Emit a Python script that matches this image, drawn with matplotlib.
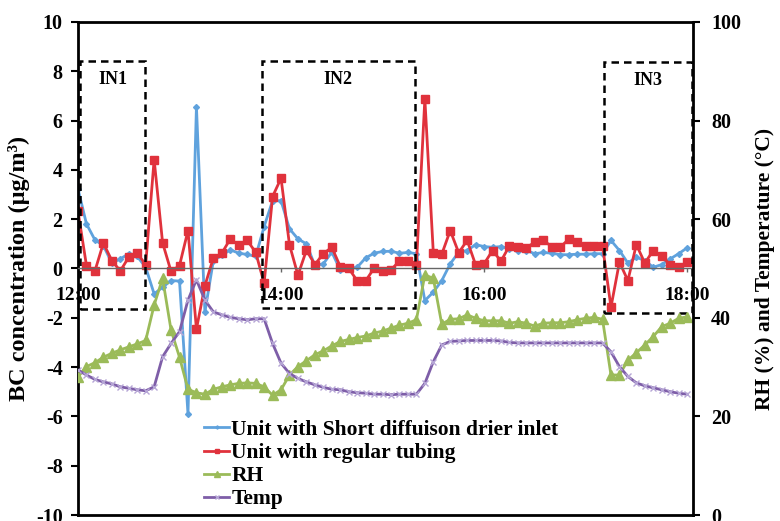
import numpy as np
import matplotlib
matplotlib.use("Agg")
import matplotlib.pyplot as plt
import matplotlib.patches as patches

# sampling every 5 minutes from 12:00 to 18:00
minutes = np.arange(0, 361, 5)
tick_minutes = [0, 120, 240, 360]
tick_labels = ["12:00", "14:00", "16:00", "18:00"]

bc_drier = [3.23, 1.81, 1.16, 0.93, 0.22, 0.39, 0.60, 0.49, 0.05, -1.03,
            -0.76, -0.49, -0.51, -5.9, 6.57, -1.77, 0.32, 0.53, 0.76, 0.62,
            0.57, 0.49, 1.70, 2.75, 2.75, 1.61, 1.20, 1.00, 0.12, 0.19,
            0.66, -0.05, -0.01, 0.05, 0.43, 0.62, 0.69, 0.70, 0.62, 0.65,
            0.60, -1.30, -0.96, -0.49, 0.19, 0.66, 0.73, 0.97, 0.89, 0.86,
            0.89, 0.80, 0.73, 0.73, 0.60, 0.65, 0.62, 0.56, 0.56, 0.58,
            0.58, 0.60, 0.60, 1.14, 0.73, 0.22, 0.46, 0.32, 0.05, 0.16,
            0.39, 0.60, 0.84]
bc_tubing = [2.32, 0.12, -0.10, 1.03, 0.32, -0.10, 0.46, 0.62, 0.16, 4.42,
             1.04, -0.12, 0.12, 1.54, -2.46, -0.70, 0.43, 0.62, 1.20, 0.95,
             1.14, 0.66, -0.60, 2.92, 3.66, 0.96, -0.27, 0.74, 0.16, 0.60,
             0.86, 0.08, 0.01, -0.50, -0.50, 0.01, -0.11, -0.05, 0.30, 0.32,
             0.14, 6.88, 0.64, 0.58, 1.54, 0.64, 1.14, 0.15, 0.19, 0.73,
             0.30, 0.92, 0.89, 0.84, 1.07, 1.14, 0.89, 0.86, 1.19, 1.07,
             0.90, 0.92, 0.93, -1.57, 0.26, -0.49, 0.97, 0.22, 0.73, 0.49,
             0.16, 0.05, 0.26]
rh = [28.0, 30.1, 30.9, 32.0, 32.8, 33.5, 34.1, 34.7, 35.4, 42.6,
      48.0, 37.5, 32.0, 25.5, 24.8, 24.5, 25.5, 26.0, 26.4, 26.7,
      26.8, 26.7, 26.0, 24.3, 25.4, 28.4, 30.1, 31.3, 32.5, 33.3,
      34.3, 35.2, 35.6, 36.0, 36.3, 36.9, 37.3, 37.9, 38.5, 38.9,
      39.6, 48.7, 48.0, 38.7, 39.7, 39.8, 40.6, 39.9, 39.4, 39.4,
      39.4, 38.9, 39.2, 38.9, 38.3, 38.9, 39.0, 39.0, 39.2, 39.6,
      39.9, 40.1, 39.7, 28.4, 28.4, 31.4, 32.9, 34.5, 36.2, 38.2,
      38.9, 39.9, 40.2]
temp = [29.4, 28.4, 27.5, 27.0, 26.6, 26.0, 25.7, 25.4, 25.2, 26.0,
        32.1, 34.8, 37.2, 43.6, 47.7, 43.6, 41.2, 40.6, 40.1, 39.8,
        39.6, 39.8, 39.8, 34.8, 30.8, 28.7, 27.7, 27.0, 26.4, 25.9,
        25.5, 25.4, 25.0, 24.8, 24.7, 24.5, 24.5, 24.4, 24.5, 24.5,
        24.5, 26.7, 31.1, 34.5, 35.2, 35.3, 35.4, 35.4, 35.4, 35.4,
        35.3, 35.0, 34.9, 34.9, 34.9, 34.9, 34.9, 34.9, 34.9, 34.9,
        34.9, 34.9, 34.9, 33.1, 30.1, 28.1, 26.8, 26.2, 25.8, 25.4,
        25.0, 24.7, 24.5]

# inlet comparison windows: (label, start min, end min, bottom, top)
windows = [("IN1", 1.2, 39.6, -1.65, 8.4),
           ("IN2", 108.6, 199.0, -1.6, 8.42),
           ("IN3", 311.0, 362.8, -1.82, 8.38)]

plt.rcParams['font.family'] = ['Liberation Serif', 'DejaVu Serif']
plt.rcParams['font.weight'] = 'bold'
plt.rcParams['axes.unicode_minus'] = False

fig = plt.figure(figsize=(7.8, 5.21), dpi=100)
ax = fig.add_axes([0.1, 0.0115, 0.7885, 0.9463])
ax2 = ax.twinx()

ax.plot(minutes, bc_drier, color='#5fa2dd', lw=2, marker='D', ms=3,
        label='Unit with Short diffuison drier inlet')
ax.plot(minutes, bc_tubing, color='#e0323c', lw=2, marker='s', ms=6,
        label='Unit with regular tubing')
ax2.plot(minutes, rh, color='#9bbb59', lw=2, marker='^', ms=7, label='RH')
ax2.plot(minutes, temp, color='#7e5ea8', lw=2, marker='x', ms=5,
         mec='#b6a6d6', mew=1, label='Temp')

ax.set_xlim(0, 363.5)
ax.set_ylim(-10, 10)
ax2.set_ylim(0, 100)
ax.set_yticks(np.arange(-10, 11, 2))
ax2.set_yticks(np.arange(0, 101, 20))

# time axis runs along the BC = 0 line
ax.spines['bottom'].set_position(('data', 0))
ax.spines['bottom'].set_color('#666666')
ax.spines['bottom'].set_linewidth(1)
ax.set_xticks(tick_minutes)
ax.set_xticklabels(tick_labels)
ax.tick_params(axis='x', direction='out', length=3, width=1, color='#666666',
               pad=10, labelsize=14)
ax.tick_params(axis='y', direction='out', length=5, width=1.5, pad=6,
               labelsize=14.5)
ax2.tick_params(axis='y', direction='out', length=5, width=1.5, pad=8,
                labelsize=14.5)

for s in ['left', 'top']:
    ax.spines[s].set_linewidth(2)
ax.spines['right'].set_visible(False)
for s in ['right', 'bottom']:
    ax2.spines[s].set_linewidth(2)
ax2.spines['left'].set_visible(False)
ax2.spines['top'].set_visible(False)

ax.set_ylabel('BC concentration (μg/m³)', fontsize=17.5, fontweight='bold',
              labelpad=4)
ax2.set_ylabel('RH (%) and Temperature (°C)', fontsize=15.5,
               fontweight='bold', rotation=90, labelpad=10)

for name, x0, x1, y0, y1 in windows:
    ax.add_patch(patches.Rectangle((x0, y0), x1 - x0, y1 - y0, fill=False,
                                   edgecolor='black', lw=1.8,
                                   linestyle=(0, (3, 2)), clip_on=False,
                                   zorder=5))
    ax.text((x0 + x1) / 2, y1 - 0.75, name, ha='center', va='center',
            fontsize=13, fontweight='bold')

h1, l1 = ax.get_legend_handles_labels()
h2, l2 = ax2.get_legend_handles_labels()
ax2.legend(h1 + h2, l1 + l2, loc='upper left', bbox_to_anchor=(0.262, 0.194),
           bbox_transform=fig.transFigure, frameon=False, fontsize=15.5,
           handlelength=1.15, handletextpad=0.1, labelspacing=0.14,
           borderpad=0, borderaxespad=0, numpoints=1, markerscale=0.55)

fig.savefig('out.png', dpi=100)
